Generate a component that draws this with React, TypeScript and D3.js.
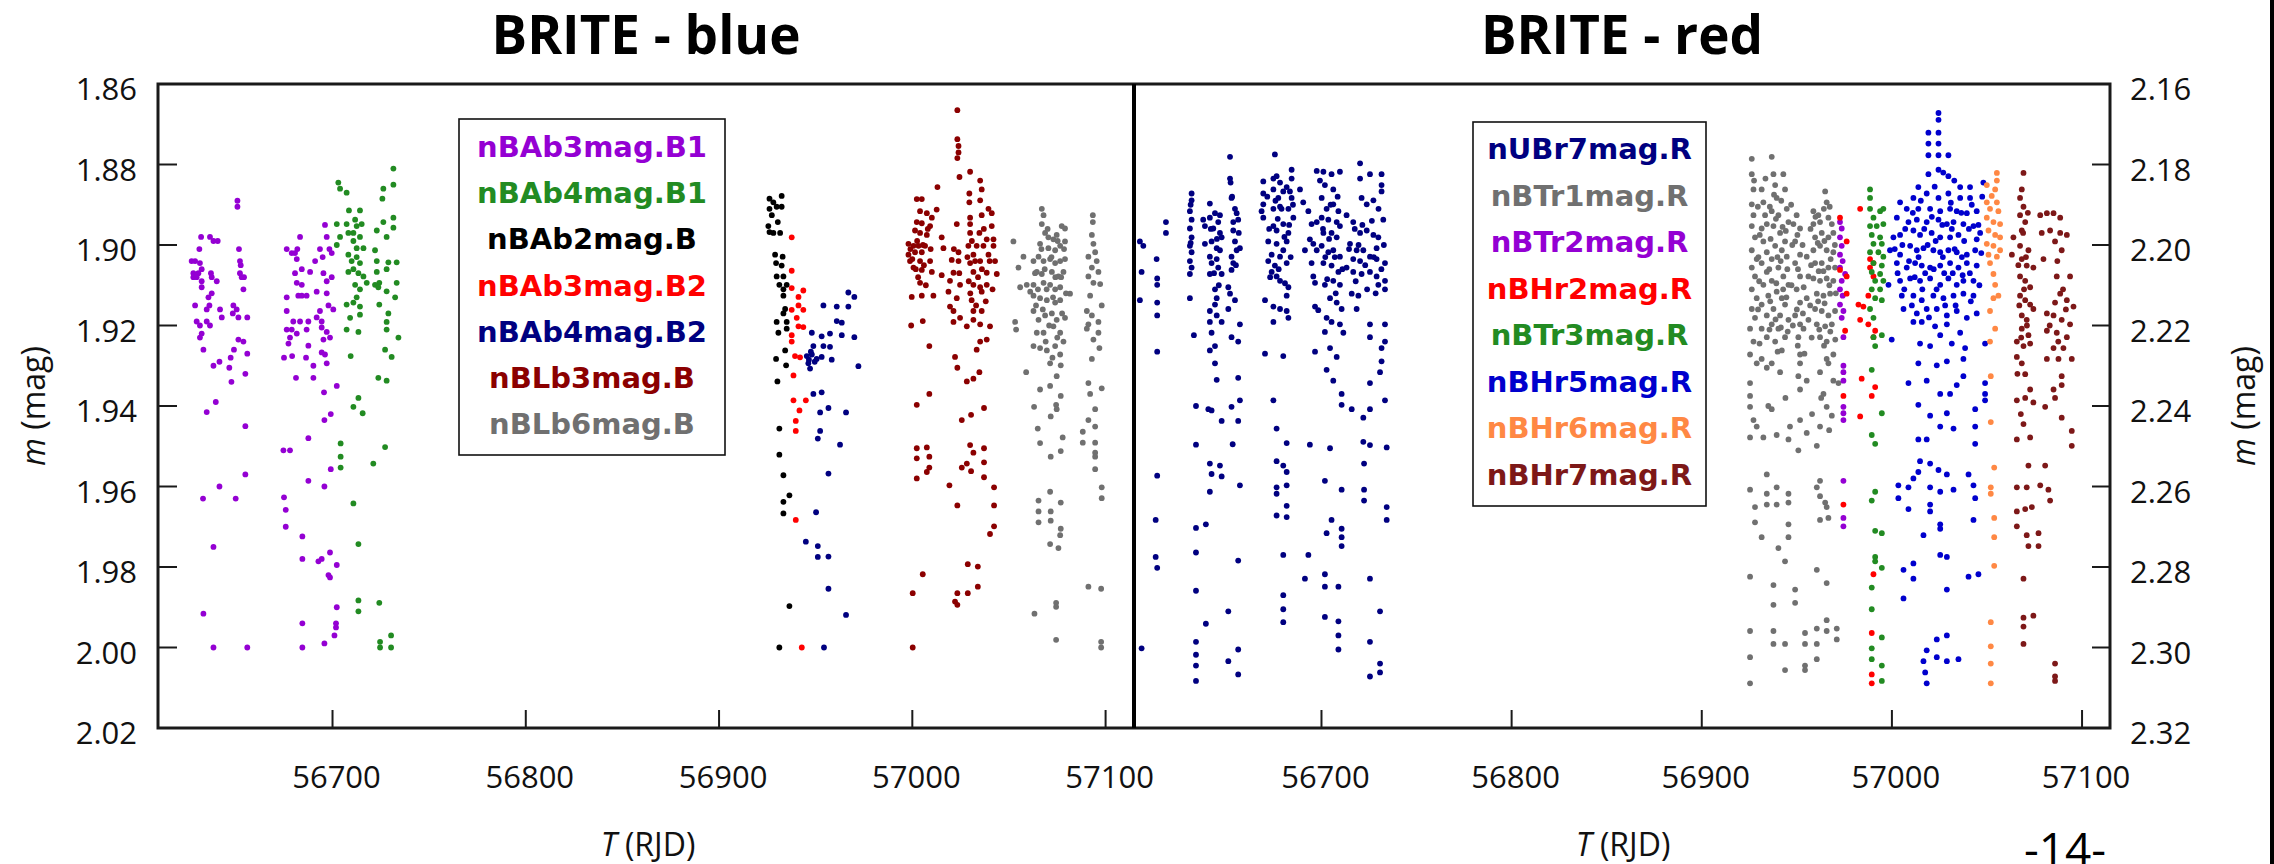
import React from 'react';
import * as d3 from 'd3';

type P = [number, number];

// ---------- axis ticks ----------
const leftYTicks = [1.86, 1.88, 1.9, 1.92, 1.94, 1.96, 1.98, 2.0, 2.02];
const rightYTicks = [2.16, 2.18, 2.2, 2.22, 2.24, 2.26, 2.28, 2.3, 2.32];
const xTicks = [56700, 56800, 56900, 57000, 57100];

// ---------- BRITE - blue ----------
const nBAb3magB1: P[] = [
[56632.0,1.898],[56636.6,1.898],[56638.4,1.899],[56640.6,1.899],[56631.1,1.901],[56627.1,1.904],[56628.9,1.904],[56631.4,1.9045],[56628,1.907],[56630.6,1.907],[56632.3,1.906],[56637.1,1.907],[56628,1.908],[56629.7,1.908],[56632.3,1.909],[56637.5,1.908],[56640.1,1.909],[56632.3,1.9105],[56635.8,1.913],[56637.5,1.912],[56628.9,1.915],[56636.3,1.915],[56634.9,1.916],[56641.8,1.916],[56642.7,1.918],[56629.7,1.919],[56631.4,1.92],[56634.9,1.919],[56636.6,1.92],[56632.3,1.922],[56631.4,1.923],[56633.2,1.926],[56638.4,1.93],[56641.5,1.929],[56634.9,1.9415],[56639.6,1.939],[56633,1.963],[56641.5,1.96],[56638.4,1.975],[56633.2,1.9916],[56638.4,2.0],
[56650.8,1.889],[56650.8,1.8905],[56651.6,1.901],[56652.1,1.904],[56652.5,1.905],[56652.1,1.907],[56653,1.908],[56654.2,1.908],[56653.9,1.911],[56648.7,1.915],[56650.4,1.916],[56648.4,1.917],[56651.3,1.918],[56655.9,1.918],[56649,1.926],[56647.3,1.928],[56646.6,1.9305],[56651.3,1.9235],[56653.9,1.924],[56655.9,1.927],[56654.9,1.932],[56647.7,1.934],[56654.9,1.945],[56654.9,1.957],[56649.9,1.963],[56655.9,2.0],
[56676.3,1.901],[56678.9,1.902],[56680.6,1.902],[56681.8,1.901],[56683.2,1.898],[56681.5,1.9035],[56680.6,1.907],[56684.1,1.906],[56688.4,1.9067],[56691,1.904],[56693.5,1.901],[56694.9,1.903],[56696.1,1.895],[56697,1.898],[56698.4,1.901],[56699.6,1.902],[56681.5,1.9094],[56684.1,1.9099],[56695.3,1.907],[56697,1.909],[56699.6,1.908],[56676.3,1.913],[56682.3,1.9126],[56684.1,1.9126],[56686.6,1.9126],[56691.8,1.9116],[56697,1.912],[56697.9,1.915],[56700.4,1.916],[56676.3,1.9164],[56679.7,1.919],[56683.2,1.919],[56687.5,1.919],[56691.8,1.918],[56693.5,1.9164],[56694.4,1.919],[56676.3,1.921],[56678.9,1.921],[56678,1.923],[56677.2,1.9245],[56681.5,1.922],[56686.6,1.921],[56694.4,1.9205],[56697,1.9216],[56698.7,1.923],[56695.3,1.9235],[56687.5,1.925],[56694.4,1.9267],[56696.1,1.9272],[56674.9,1.928],[56679.1,1.9276],[56686.3,1.928],[56690.1,1.93],[56697,1.9294],[56681.1,1.933],[56690.1,1.933],[56702.2,1.935],[56695.6,1.9366],[56699.1,1.942],[56695.8,1.9435],[56687.5,1.948],[56674.6,1.951],[56678,1.951],[56687.5,1.9586],[56695.8,1.96],[56699.1,1.9557],[56674.9,1.9627],[56675.8,1.9658],[56675.8,1.97],[56684.4,1.9724],[56684.4,1.978],[56692.7,1.9786],[56694.4,1.978],[56698.7,1.9764],[56702.2,1.9795],[56697.9,1.982],[56698.7,1.9826],[56702.2,1.99],[56701.8,1.994],[56701.8,1.995],[56701,1.997],[56695.8,1.999],[56684.4,1.994],[56684.4,2.0]
];

const nBAb4magB1: P[] = [
[56703,1.8845],[56703.9,1.886],[56707.3,1.887],[56708.5,1.8914],[56714.2,1.8914],[56726.3,1.886],[56725.8,1.8885],[56731.5,1.881],[56731.5,1.885],[56702.2,1.8948],[56707.3,1.8948],[56711.7,1.8937],[56712.5,1.8953],[56715.1,1.8948],[56722.9,1.8964],[56726.3,1.8943],[56731.5,1.8932],[56731.5,1.8957],[56703.9,1.898],[56708.2,1.897],[56710.8,1.897],[56714.2,1.898],[56702.2,1.9],[56710.8,1.899],[56712.5,1.9008],[56716,1.9008],[56722,1.9013],[56728,1.898],[56708.2,1.9024],[56709.9,1.904],[56712.5,1.903],[56714.2,1.9045],[56722.9,1.904],[56728.9,1.9043],[56733.2,1.9043],[56708.2,1.9067],[56710.8,1.906],[56713.4,1.907],[56716,1.9078],[56722.9,1.9067],[56724.2,1.9094],[56728,1.906],[56717.7,1.9094],[56711.7,1.9099],[56714.2,1.911],[56712.5,1.913],[56722,1.9099],[56723.7,1.9105],[56733.2,1.9094],[56728,1.9115],[56732.4,1.913],[56707.3,1.9148],[56710.8,1.9143],[56714.2,1.9153],[56724.2,1.9148],[56728.9,1.917],[56709.1,1.9181],[56714.2,1.9173],[56728,1.9191],[56707.3,1.921],[56713.4,1.9216],[56728,1.921],[56734.1,1.923],[56709.4,1.9276],[56727.2,1.926],[56730.6,1.9278],[56723.7,1.933],[56728,1.9337],[56713.4,1.938],[56710.8,1.9402],[56715.6,1.9418],[56704.2,1.9493],[56704.2,1.9526],[56704.2,1.9553],[56721.1,1.9543],[56727.2,1.9502],[56710.8,1.9642],[56713.4,1.9743],[56713.4,1.9883],[56713.4,1.991],[56724.2,1.9889],[56724.6,1.9986],[56724.6,2.0],[56730.3,1.997],[56730.3,2.0]
];

const nBAb2magB: P[] = [
[56926.1,1.8885],[56928.1,1.8894],[56932.4,1.8878],[56926.1,1.891],[56929.8,1.8905],[56932.4,1.8905],[56927.3,1.8926],[56930.4,1.8943],[56925.5,1.8953],[56928.1,1.897],[56931.6,1.897],[56926.1,1.8968],[56929,1.9024],[56932.9,1.9029],[56929.5,1.9045],[56932.4,1.9051],[56929.8,1.9078],[56933.3,1.9078],[56931.2,1.9099],[56933.3,1.911],[56935,1.9099],[56933.3,1.9126],[56934.2,1.9159],[56933.3,1.917],[56929.8,1.9191],[56935,1.9191],[56930.7,1.9218],[56935,1.9208],[56929.5,1.9283],[56934.2,1.9262],[56934.7,1.9299],[56930.2,1.9339],[56931.2,1.9456],[56931.2,1.9521],[56933.3,1.9572],[56933.3,1.9638],[56936.4,1.9622],[56933.3,1.9667],[56936.4,1.9897],[56931.2,2.0]
];

const nBAb3magB2: P[] = [
[56937.6,1.8981],[56937.6,1.9064],[56937.6,1.9107],[56941.1,1.9129],[56943.6,1.9113],[56937.6,1.9161],[56941.1,1.915],[56943.6,1.9161],[56940.2,1.9181],[56941.1,1.9202],[56943.6,1.9204],[56937.6,1.9224],[56937.6,1.924],[56939.3,1.9276],[56941.9,1.9279],[56938.5,1.9324],[56938.5,1.9386],[56941.6,1.9411],[56944.9,1.9386],[56939.7,1.9437],[56939.7,1.9462],[56939.7,1.9683],[56942.8,2.0]
];

const nBAb4magB2: P[] = [
[56966.9,1.9118],[56970,1.9129],[56954,1.915],[56960.9,1.9153],[56966.9,1.9153],[56960.9,1.9189],[56963.5,1.9193],[56948,1.9218],[56953.1,1.9227],[56957.4,1.922],[56963.5,1.9224],[56970,1.9229],[56948.8,1.9251],[56954,1.9251],[56957.4,1.9253],[56945.4,1.9276],[56948,1.9272],[56950.5,1.9283],[56953.1,1.9278],[56958.3,1.9285],[56946.2,1.9294],[56947.1,1.9307],[56972.1,1.9301],[56946.5,1.9285],[56949.5,1.929],[56947.5,1.9265],[56948.8,1.937],[56953.1,1.9366],[56952.3,1.9416],[56956.6,1.9405],[56965.7,1.9416],[56952.3,1.9462],[56951.1,1.9481],[56962.6,1.9496],[56956.6,1.9568],[56950.2,1.9664],[56944.9,1.9737],[56951.1,1.9748],[56951.1,1.9775],[56956.6,1.9774],[56956.6,1.9854],[56965.7,1.9919],[56954.3,2.0]
];

const nBLb3magB: P[] = [
[57023.3,1.8665],[57023.3,1.8737],[57023.9,1.8754],[57023.9,1.877],[57023.3,1.8784],[57024.4,1.8831],[57029.9,1.8818],[57035.1,1.884],[57035.9,1.8862],[57013,1.8856],[57002.3,1.8886],[57004.9,1.8886],[57012.6,1.8912],[57029.5,1.8872],[57029.5,1.8894],[57035.1,1.8889],[57039.4,1.891],[57041.1,1.8921],[57004,1.8916],[57007.5,1.8921],[57010.1,1.8932],[57029.9,1.8932],[57035.9,1.8926],[57023,1.8948],[57002.3,1.8943],[57004.9,1.8946],[57009.2,1.8953],[57029.9,1.8948],[57041.1,1.8953],[57001.4,1.8964],[57004,1.897],[57007.5,1.8975],[57015.2,1.8981],[57029.9,1.897],[57034.7,1.897],[57038.5,1.8986],[57042,1.8986],[56998,1.8997],[57000.6,1.9002],[57003.2,1.9002],[57006.6,1.9002],[57016.1,1.9008],[57029,1.9002],[57033.3,1.9002],[57036.8,1.9002],[57042,1.9002],[56998,1.9024],[57001.4,1.9018],[57004.9,1.9018],[57023.9,1.9018],[57031.6,1.9024],[57039.4,1.9024],[56998.8,1.904],[57004,1.904],[57009.2,1.904],[57020.4,1.9037],[57023.9,1.904],[57029.9,1.9045],[57035.1,1.904],[57042.8,1.904],[57000.6,1.9056],[57004.9,1.9062],[57010.1,1.9067],[57015.2,1.9075],[57021.3,1.9069],[57031.6,1.9067],[57038.5,1.9069],[57043.7,1.9072],[57004,1.9094],[57019.5,1.9089],[57024.7,1.9099],[57031.6,1.9099],[57035.1,1.9105],[57038.5,1.9099],[57004.9,1.9126],[57010.9,1.9126],[56999.7,1.9129],[57018.7,1.9116],[57023,1.9132],[57030.7,1.9137],[57035.9,1.9116],[57019.5,1.9153],[57021.3,1.9164],[57024.7,1.9181],[57031.6,1.9164],[57035.9,1.9164],[56999.4,1.92],[57005.4,1.9189],[57021.3,1.9191],[57028.2,1.9202],[57031.6,1.9186],[57035.1,1.9197],[57040.2,1.9202],[57008.8,1.9251],[57035.1,1.924],[57038.5,1.9235],[57033.3,1.926],[57022.1,1.9278],[57023.3,1.9305],[57028.2,1.9339],[57031.6,1.9332],[57034.7,1.9316],[57002.3,1.9397],[57008.8,1.937],[57025.6,1.9435],[57030.4,1.9422],[57037.1,1.9405],[57002.3,1.9505],[57007.5,1.9503],[57002.3,1.953],[57008.8,1.9526],[57002.3,1.958],[57007.5,1.9564],[57008.8,1.9553],[57029.9,1.9497],[57031.6,1.9516],[57037.1,1.9505],[57028.2,1.9543],[57025.6,1.9553],[57037.1,1.954],[57030.4,1.9562],[57037.1,1.9577],[57019.2,1.9597],[57042.3,1.9602],[57023.3,1.9647],[57042.3,1.9647],[57042.3,1.9699],[57040.2,1.9718],[57005.4,1.9818],[57028.7,1.9793],[57033.9,1.9799],[57000.2,1.9865],[57023.3,1.9865],[57028.7,1.9865],[57033.9,1.9849],[57022.1,1.9886],[57023.3,1.9894],[57000.2,2.0],
[56999.0,1.901],[57000.0,1.9035],[57001.8,1.906],[57002.5,1.899],[57003.0,1.908],[57005.5,1.9],[57006.0,1.905],[57007.0,1.91],[57008.0,1.896],[57009.5,1.901],[57028.5,1.903],[57029.2,1.909],[57030.0,1.912],[57030.8,1.899],[57032.5,1.904],[57033.0,1.915],[57034.0,1.908],[57036.0,1.906],[57037.0,1.896],[57038.0,1.914],[57040.0,1.904],[57041.5,1.911],[57024.3,1.907],[57021.5,1.901]
];

const nBLb6magB: P[] = [
[57052.3,1.8991],[57054.9,1.9056],[57057.5,1.9029],[57059.2,1.9099],[57061,1.9116],[57055.8,1.9105],[57062.7,1.9126],[57067,1.891],[57067.9,1.8926],[57067,1.8948],[57068.7,1.897],[57070.4,1.8981],[57073,1.8986],[57074.7,1.8975],[57077.3,1.8953],[57079,1.8959],[57066.1,1.8997],[57070.4,1.9008],[57073.9,1.9013],[57076.5,1.9002],[57079,1.8991],[57062.7,1.904],[57065.3,1.9029],[57067.9,1.904],[57071.3,1.9035],[57073.9,1.9045],[57076.5,1.904],[57079,1.9035],[57064.4,1.9067],[57067,1.9072],[57072.2,1.9067],[57075.6,1.9078],[57078.2,1.9067],[57062.7,1.9099],[57067.9,1.9094],[57071.3,1.9099],[57073.9,1.911],[57076.5,1.9105],[57081.6,1.9121],[57066.1,1.9132],[57069.6,1.9137],[57073.9,1.9143],[57076.5,1.9137],[57062.7,1.9164],[57065.3,1.9186],[57068.7,1.9175],[57072.2,1.917],[57074.7,1.9186],[57079,1.9181],[57053.2,1.9191],[57053.7,1.921],[57064.4,1.9218],[57067.9,1.9218],[57073,1.9202],[57076.5,1.9218],[57078.2,1.924],[57062.7,1.9251],[57066.1,1.9256],[57069.6,1.9262],[57073.9,1.9251],[57076.5,1.9272],[57071.3,1.9294],[57076.8,1.9299],[57058.9,1.9316],[57066.1,1.9359],[57071.3,1.935],[57074.7,1.9326],[57076.8,1.9375],[57063,1.9402],[57074.4,1.9397],[57074.7,1.9408],[57071.6,1.9426],[57064.9,1.9456],[57077.8,1.9478],[57066.1,1.9492],[57071.6,1.9526],[57076.8,1.9512],[57065.3,1.9635],[57071.3,1.9613],[57076.8,1.964],[57065.3,1.9662],[57071.6,1.9662],[57065.3,1.9689],[57071.6,1.9685],[57076.8,1.9705],[57076.5,1.9721],[57071.3,1.9743],[57075.6,1.9753],[57063.2,1.9916],[57074.4,1.9889],[57074.4,1.9899],[57074.4,1.9981],
[57093.4,1.8926],[57093.4,1.8943],[57092.9,1.8975],[57093.7,1.8997],[57094.6,1.9018],[57091.1,1.9029],[57095.4,1.904],[57092.9,1.9056],[57096.3,1.9067],[57091.1,1.9078],[57093.7,1.9094],[57097.2,1.9097],[57092,1.9126],[57098,1.915],[57090.3,1.9164],[57092.9,1.9175],[57096.3,1.9191],[57091.1,1.9197],[57090.3,1.9208],[57096.3,1.9218],[57093.7,1.9235],[57096.8,1.9256],[57092.9,1.9283],[57091.1,1.9343],[57098,1.9356],[57092,1.937],[57094.6,1.9408],[57091.1,1.9435],[57094.6,1.9451],[57088.2,1.9464],[57088.2,1.9491],[57094.6,1.9491],[57094.6,1.9516],[57094.6,1.9526],[57094.6,1.9557],[57098,1.9602],[57098,1.9629],[57091.1,1.9849],[57097.7,1.9854],[57097.7,1.9986],[57097.7,2.0],
[57063.5,1.907],[57064.0,1.915],[57065.0,1.911],[57066.8,1.901],[57067.5,1.916],[57068.5,1.906],[57069.5,1.911],[57070.0,1.896],[57070.8,1.92],[57072.0,1.903],[57072.8,1.913],[57074.0,1.908],[57075.0,1.923],[57075.2,1.899],[57077.0,1.908],[57077.5,1.917],[57078.5,1.901],[57079.5,1.912],[57069.0,1.924],[57072.5,1.928]
];

// ---------- BRITE - red ----------
const nUBr7magR: P[] = [
[56604.5,2.1991],[56606.3,2.2002],[56605.4,2.2067],[56604.5,2.2137],[56605.4,2.3002],[56613.3,2.2035],[56613.6,2.2083],[56613.6,2.2099],[56613.6,2.2143],[56613.6,2.2175],[56613.6,2.2265],[56613.6,2.2573],[56612.8,2.2683],[56612.8,2.2775],[56613.6,2.2802],[56618.2,2.1943],[56618.2,2.197],
[56631.7,2.1872],[56631.7,2.1889],[56630.8,2.1916],[56631.7,2.1937],[56630.8,2.1959],[56631.7,2.1981],[56630.8,2.2002],[56631.7,2.2018],[56630.8,2.204],[56631.7,2.2056],[56630.8,2.2072],[56630.8,2.2132],[56632.9,2.2224],[56634,2.24],[56634,2.2496],[56634,2.2703],[56634,2.2764],[56634,2.2859],[56634,2.2986],[56634,2.3018],[56634,2.3045],[56634,2.3083],[56639.2,2.2941],[56639.2,2.2694],
[56641.3,2.1897],[56637.8,2.1937],[56638.7,2.1953],[56641.3,2.1932],[56644,2.1921],[56646.6,2.1926],[56645.7,2.1943],[56643.1,2.1959],[56646.6,2.197],[56647.5,2.1981],[56638.7,2.1997],[56642.2,2.1991],[56644.9,2.2008],[56646.6,2.2013],[56641.3,2.2029],[56644.9,2.2035],[56642.2,2.2045],[56645.7,2.2056],[56641.3,2.2072],[56647.5,2.2072],[56644,2.211],[56644.9,2.2132],[56644,2.2148],[56641.3,2.2164],[56644.9,2.2175],[56647.5,2.2191],[56641.3,2.2191],[56642.2,2.2218],[56644,2.2251],[56641.3,2.2262],[56644,2.2294],[56644.9,2.2335],[56640.5,2.2408],[56642.2,2.2411],[56647.5,2.2437],[56641.3,2.2543],[56642.2,2.2569],[56646.6,2.2548],[56647.5,2.2575],[56641.3,2.2613],
[56651.9,2.1781],[56651.9,2.1835],[56652.2,2.1845],[56652.7,2.1883],[56654.5,2.191],[56655.4,2.1921],[56653.6,2.1943],[56656.2,2.1937],[56653.6,2.1964],[56654.5,2.1991],[56657.1,2.2008],[56655.4,2.2013],[56652.7,2.2029],[56653.6,2.2045],[56652.7,2.2062],[56651,2.2105],[56651.9,2.2121],[56654.5,2.2137],[56651,2.2159],[56657.1,2.2197],[56652.7,2.2229],[56656.2,2.224],[56656.2,2.233],[56657.1,2.2386],[56652.7,2.2402],[56656.2,2.2437],[56653.3,2.2495],[56657.1,2.2597],[56656.2,2.2784],[56651,2.291],[56651,2.3034],[56656.2,2.3005],[56656.2,2.3067],
[56669.4,2.1842],[56669.4,2.1872],[56669.4,2.1899],[56669.4,2.1932],[56668.5,2.1916],[56675.5,2.1775],[56674.7,2.1835],[56676.4,2.1829],[56678.2,2.1845],[56674.7,2.1862],[56677.3,2.1883],[56679.9,2.1867],[56681.7,2.1856],[56684.3,2.1813],[56684.3,2.1835],[56683.4,2.1867],[56684.3,2.1883],[56674.7,2.191],[56678.2,2.1905],[56682.6,2.191],[56685.2,2.1932],[56674.7,2.1953],[56679.9,2.1948],[56676.4,2.1964],[56682.6,2.197],[56672,2.1991],[56676.4,2.1997],[56681.7,2.1991],[56679.9,2.2013],[56673.8,2.2024],[56678.2,2.2029],[56672,2.204],[56675.5,2.2051],[56681.7,2.2045],[56673.8,2.2067],[56676.4,2.2078],[56678.2,2.2089],[56682.6,2.2105],[56681.7,2.2126],[56670.3,2.2137],[56674.7,2.2153],[56678.2,2.2159],[56681.7,2.2164],[56674.7,2.2191],[56682.6,2.2181],[56670.3,2.227],[56679.9,2.2276],[56674.7,2.2386],[56676.4,2.2456],[56681.7,2.2492],[56676.4,2.2537],[56679.9,2.2548],[56681.7,2.2564],[56676.4,2.2602],[56676.4,2.2618],[56681.7,2.2597],[56681.7,2.2648],[56676.4,2.2672],[56681.7,2.2676],[56679.9,2.277],[56679.9,2.287],[56679.9,2.2905],[56679.9,2.2937],
[56688.7,2.1862],[56690.4,2.1894],[56693.1,2.1916],[56694.8,2.1948],[56697.5,2.1943],[56693.9,2.1986],[56695.7,2.1997],[56691.3,2.2013],[56697.5,2.2013],[56694.8,2.2045],[56695.7,2.2078],[56696.6,2.2094],[56693.1,2.277],[56691.3,2.2829],[56696.6,2.2153],[56698.3,2.2162],[56696.6,2.2265],[56693.9,2.2496],
[56697.5,2.1816],[56701,2.1818],[56699.2,2.184],[56705.3,2.1824],[56709.7,2.1818],[56701.8,2.1851],[56706.2,2.1862],[56700.1,2.1883],[56702.7,2.191],[56706.2,2.1899],[56708.9,2.1916],[56700.1,2.1932],[56703.6,2.1937],[56708,2.1943],[56709.7,2.1953],[56701,2.197],[56705.3,2.197],[56708,2.1981],[56700.1,2.2002],[56703.6,2.2018],[56706.2,2.2013],[56709.7,2.2029],[56701,2.2045],[56705.3,2.2051],[56708.9,2.2067],[56701.8,2.2099],[56706.2,2.2089],[56709.7,2.2099],[56704.5,2.2132],[56708,2.2143],[56710.6,2.2159],[56702.7,2.2181],[56705.3,2.2191],[56709.7,2.2197],[56701.8,2.2216],[56711.5,2.2218],[56704.5,2.2256],[56708,2.2278],[56702.7,2.231],[56706.2,2.2337],[56710.6,2.237],[56710.6,2.2397],[56704.5,2.2505],[56701.8,2.2586],[56710.6,2.2608],[56705.3,2.2683],[56702.7,2.2716],[56710.6,2.2705],[56710.6,2.2726],[56710.6,2.2748],[56701.8,2.2818],[56701.8,2.2849],[56708.9,2.2849],[56701.8,2.2924],[56708.9,2.2935],[56708.9,2.297],[56708.9,2.3005],
[56720.3,2.1797],[56720.3,2.1835],[56725.5,2.1824],[56731.6,2.1824],[56731.6,2.1851],[56721.1,2.1883],[56723.8,2.1899],[56727.3,2.1889],[56731.6,2.1867],[56732.5,2.1937],[56713.2,2.1926],[56716.7,2.1943],[56720.3,2.197],[56723.8,2.1964],[56727.3,2.1975],[56729.9,2.1981],[56715,2.1997],[56718.5,2.2013],[56722,2.2013],[56729,2.2008],[56716.7,2.2035],[56720.3,2.204],[56725.5,2.2029],[56729,2.2035],[56733.4,2.2045],[56713.2,2.2056],[56716.7,2.2067],[56721.1,2.2072],[56725.5,2.2067],[56729,2.2078],[56733.4,2.2089],[56715.9,2.2121],[56719.4,2.2126],[56729.9,2.2099],[56733.4,2.211],[56718.5,2.2159],[56725.5,2.2197],[56733.4,2.2197],[56725.5,2.2229],[56733.4,2.224],[56731.6,2.2256],[56731.6,2.2289],[56730.8,2.2316],[56725.5,2.2343],[56715.9,2.2408],[56722,2.2429],[56725.5,2.2408],[56733.4,2.2386],[56722,2.2489],[56725.5,2.2497],[56734.3,2.2503],[56722.4,2.2543],[56722.4,2.2608],[56722.4,2.2635],[56734.3,2.2651],[56734.3,2.2683],[56725.5,2.2829],[56730.8,2.291],[56725.5,2.2986],[56730.8,2.304],[56730.8,2.3062],[56725.5,2.3072],
[56671.5,2.188],[56672.5,2.196],[56673.0,2.208],[56675.8,2.189],[56677.0,2.1935],[56677.5,2.206],[56679.0,2.191],[56680.5,2.198],[56680.8,2.2095],[56683.0,2.195],[56683.8,2.203],[56685.0,2.19],[56700.8,2.196],[56702.0,2.203],[56703.0,2.2085],[56704.0,2.1985],[56704.8,2.19],[56707.0,2.203],[56707.5,2.212],[56708.5,2.188],[56711.0,2.206],[56714.5,2.201],[56717.5,2.196],[56718.0,2.209],[56719.5,2.2],[56721.5,2.195],[56723.0,2.205],[56724.0,2.211],[56726.5,2.194],[56727.5,2.203],[56728.5,2.212],[56730.0,2.191],[56731.5,2.206],[56732.8,2.2],[56641.8,2.196],[56643.5,2.207],[56645.0,2.1985],[56646.0,2.21],[56653.0,2.188],[56655.0,2.205],[56656.5,2.197],[56631.2,2.19],[56631.2,2.1995]
];

const nBTr1magR: P[] = [
[56926.3,2.1786],[56926.3,2.1824],[56927.2,2.1862],[56926.3,2.1899],[56927.2,2.1926],[56926.3,2.1953],[56928,2.1981],[56926.3,2.2013],[56928.9,2.2035],[56926.3,2.2056],[56928,2.2078],[56926.3,2.211],[56928.9,2.2132],[56926.3,2.2159],[56928,2.2181],[56925.4,2.2208],[56927.2,2.224],[56925.4,2.2272],[56928.9,2.2294],[56925.4,2.2343],[56925.4,2.2375],[56925.4,2.2402],[56927.2,2.2435],[56925.4,2.2478],[56928.9,2.2451],[56925.4,2.2608],[56928,2.2651],[56928,2.2689],[56925.4,2.2824],[56925.4,2.2959],[56925.4,2.3024],[56925.4,2.3089],
[56931.5,2.1862],[56932.4,2.1894],[56933.3,2.1926],[56931.5,2.1959],[56934.2,2.1948],[56932.4,2.1991],[56934.2,2.2018],[56931.5,2.2045],[56934.2,2.2067],[56932.4,2.2099],[56935,2.2126],[56931.5,2.2148],[56934.2,2.2175],[56931.5,2.2208],[56934.2,2.2229],[56931.5,2.2283],[56934.2,2.2305],[56932.4,2.2478],[56934.2,2.257],[56934.2,2.2618],[56934.2,2.2645],[56931.5,2.2726],
[56936.8,2.1781],[56937.7,2.1824],[56938.6,2.1851],[56939.4,2.1883],[56936.8,2.1916],[56940.3,2.1926],[56937.7,2.1953],[56941.2,2.197],[56938.6,2.2002],[56942.1,2.2013],[56936.8,2.2035],[56940.3,2.2056],[56942.9,2.2078],[56936.8,2.2089],[56939.4,2.2116],[56942.1,2.2132],[56937.7,2.2159],[56941.2,2.2175],[56936.8,2.2197],[56940.3,2.2208],[56938.6,2.224],[56942.1,2.2262],[56936.8,2.2294],[56941.2,2.2316],[56936.8,2.2408],[56939.4,2.2472],[56939.4,2.2602],[56939.4,2.2645],[56940.3,2.2753],[56943.8,2.2786],[56937.7,2.2845],[56937.7,2.2894],[56937.7,2.2959],[56937.7,2.2991],[56943.8,2.2991],[56943.8,2.3056],
[56942.9,2.1824],[56943.8,2.1862],[56944.7,2.191],[56945.6,2.1943],[56943.8,2.1991],[56944.7,2.2029],[56945.6,2.2099],[56943.8,2.2148],[56945.6,2.2186],[56943.8,2.2229],[56945.6,2.2618],[56945.6,2.264],[56945.6,2.2694],[56945.6,2.2726],[56945.6,2.2483],[56946.4,2.2451],
[56948.2,2.1948],[56949.9,2.1926],[56951.7,2.1959],[56949.1,2.1991],[56951.7,2.2024],[56949.1,2.2045],[56951.7,2.2078],[56949.9,2.211],[56951.7,2.2143],[56949.1,2.2175],[56951.7,2.2197],[56950.8,2.2229],[56951.7,2.2272],[56951.7,2.2294],[56950.8,2.2326],[56951.7,2.2359],[56955.2,2.2337],[56955.2,2.2029],[56956.1,2.2078],[56955.2,2.2132],[56956.1,2.2186],[56953.5,2.2208],[56951.7,2.2435],[56955.2,2.2467],[56950.8,2.251],[56949.1,2.2856],[56949.1,2.2889],[56954.3,2.2964],[56954.3,2.2991],[56954.3,2.3045],[56954.3,2.3056],[56960.5,2.2953],[56960.5,2.2991],[56960.5,2.3029],
[56958.7,2.1916],[56961.3,2.1926],[56964.9,2.1867],[56965.7,2.1894],[56958.7,2.1948],[56962.2,2.1943],[56966.6,2.1932],[56968.4,2.1948],[56959.6,2.1981],[56963.1,2.197],[56966.6,2.1981],[56969.2,2.197],[56958.7,2.2013],[56962.2,2.2002],[56965.7,2.2013],[56969.2,2.2018],[56959.6,2.2045],[56963.1,2.2045],[56966.6,2.2056],[56970.1,2.2056],[56958.7,2.2083],[56962.2,2.2089],[56965.7,2.2083],[56969.2,2.2089],[56960.5,2.2121],[56964,2.2126],[56967.5,2.2121],[56959.6,2.2159],[56963.1,2.2164],[56966.6,2.2175],[56970.1,2.2164],[56960.5,2.2197],[56964.9,2.2202],[56968.4,2.2197],[56962.2,2.2229],[56965.7,2.224],[56969.2,2.2272],[56965.7,2.2283],[56962.2,2.2316],[56966.6,2.2294],[56969.2,2.2337],[56971.9,2.2343],[56964,2.237],[56965.7,2.2402],[56968.4,2.2424],[56962.2,2.2451],[56960.5,2.2499],[56962.2,2.2586],[56960.5,2.2602],[56964.9,2.264],[56965.7,2.2651],[56962.2,2.2683],[56966.6,2.2678],[56960.5,2.2807],[56965.7,2.284],[56965.7,2.2932],[56965.7,2.2959],[56971,2.2953],[56971,2.298],[56962.2,2.2624],
[56927.5,2.184],[56929.5,2.1905],[56930.5,2.1975],[56929.8,2.203],[56930.2,2.209],[56929.6,2.216],[56930.4,2.2245],[56933.5,2.1835],[56935.8,2.1905],[56936.2,2.1985],[56935.5,2.206],[56936.0,2.214],[56935.6,2.221],[56938.0,2.1875],[56939.0,2.1935],[56939.8,2.203],[56939.2,2.2095],[56938.8,2.2185],[56939.9,2.2265],[56941.8,2.189],[56942.5,2.1955],[56941.5,2.204],[56942.8,2.211],[56941.6,2.2205],[56944.2,2.1965],[56945.0,2.206],[56944.5,2.213],[56945.2,2.2215],[56947.0,2.19],[56947.6,2.2],[56947.2,2.21],[56947.9,2.22],[56950.3,2.1975],[56950.6,2.206],[56950.0,2.216],[56950.5,2.225],[56953.0,2.2],[56953.6,2.2105],[56953.2,2.217],[56954.0,2.227],[56957.2,2.196],[56957.5,2.205],[56957.0,2.215],[56957.8,2.223],[56959.8,2.193],[56961.0,2.1995],[56961.5,2.2065],[56961.2,2.214],[56961.8,2.221],[56964.2,2.191],[56964.5,2.199],[56964.0,2.2065],[56964.6,2.2145],[56964.3,2.225],[56967.3,2.1905],[56967.8,2.2035],[56967.1,2.21],[56967.6,2.2215],[56970.0,2.2],[56970.5,2.212],[56970.2,2.2235],[56962.8,2.238],[56967.0,2.246],[56958.0,2.242],[56944.0,2.238],[56935.0,2.24]
];

const nBTr2magR: P[] = [
[56972.7,2.1943],[56973.6,2.1959],[56972.7,2.1981],[56973.6,2.2002],[56972.7,2.2024],[56974.1,2.204],[56972.7,2.2056],[56975.4,2.2072],[56973.6,2.2089],[56972.7,2.211],[56974.1,2.2126],[56972.7,2.2148],[56974.5,2.2164],[56973.6,2.2181],[56974.5,2.2229],[56974.5,2.23],[56974.5,2.2316],[56974.5,2.2337],[56974.5,2.2402],[56974.5,2.2418],[56974.5,2.2435],[56974.5,2.2586],[56974.5,2.2678],[56974.5,2.2699]
];

const nBHr2magR: P[] = [
[56972.7,2.1932],[56976.2,2.1991],[56972.7,2.2062],[56976.2,2.2078],[56976.2,2.2121],[56975.4,2.2213],[56974.5,2.2375],[56983.3,2.191],[56982.4,2.2148],[56985,2.2153],[56983.3,2.2186],[56987.6,2.2126],[56988.5,2.2035],[56990.3,2.2045],[56988.5,2.2056],[56990.3,2.2078],[56987.6,2.2197],[56991.2,2.2213],[56990.3,2.2229],[56984.1,2.2332],[56991.2,2.2353],[56989.4,2.2375],[56983.3,2.2426],[56974.5,2.2645],[56990.3,2.2818],[56989.4,2.2964],[56989.4,2.3067],[56989.4,2.3089]
];

const nBTr3magR: P[] = [
[56988.5,2.1862],[56988.5,2.1883],[56988.5,2.191],[56990.3,2.1932],[56993.8,2.1916],[56995.5,2.191],[56988.5,2.1953],[56992,2.1953],[56995.5,2.1948],[56989.4,2.1975],[56993.8,2.1981],[56990.3,2.1997],[56994.7,2.1997],[56988.5,2.2018],[56992.9,2.2018],[56995.5,2.2029],[56990.3,2.2045],[56994.7,2.2051],[56989.4,2.2067],[56993.8,2.2072],[56991.2,2.2089],[56995.5,2.2089],[56989.4,2.211],[56993.8,2.211],[56991.2,2.2132],[56994.7,2.2137],[56988.5,2.2159],[56990.3,2.2181],[56990.3,2.2229],[56991.2,2.2251],[56994.7,2.2224],[56989.4,2.231],[56994.7,2.2418],[56989.4,2.2472],[56991.2,2.2494],[56991.2,2.2613],[56989.4,2.2635],[56991.2,2.271],[56994.7,2.2716],[56991.2,2.2775],[56991.2,2.2786],[56994.7,2.2802],[56989.4,2.2851],[56989.4,2.2905],[56994.7,2.2975],[56989.4,2.3002],[56989.4,2.3029],[56994.7,2.3045],[56994.7,2.3083]
];

const nBHr5magR: P[] = [
[57024.5,2.1672],[57024.5,2.1689],[57019.2,2.1721],[57024.5,2.1721],[57019.2,2.1748],[57024.5,2.1748],[57019.2,2.1777],[57024.5,2.1777],[57029.7,2.1777],[57019.2,2.1824],[57024.5,2.1813],[57029.7,2.1829],[57013.9,2.1856],[57018.3,2.1872],[57024.5,2.1883],[57029.7,2.1872],[57035.9,2.1856],[57041.1,2.1856],[57035.9,2.1883],[57041.1,2.1883],[57011.3,2.1883],[57004.3,2.1894],[57007.8,2.191],[57013.9,2.191],[57020.1,2.191],[57025.4,2.1916],[57030.6,2.191],[57034.1,2.1916],[57039.4,2.1921],[57044.6,2.1916],[57048.1,2.1845],[57002.6,2.1932],[57008.7,2.1943],[57013.1,2.1937],[57018.3,2.1943],[57024.5,2.1937],[57028.9,2.1948],[57032.4,2.1943],[57037.6,2.1948],[57042.9,2.1953],[57046.4,2.197],[57000.8,2.1981],[57004.3,2.1975],[57011.3,2.1964],[57014.8,2.1975],[57020.9,2.197],[57025.4,2.1981],[57030.6,2.1981],[57035,2.1975],[57044.6,2.1986],[56999,2.2013],[57004.3,2.2024],[57009.6,2.2002],[57013.1,2.2013],[57016.6,2.2008],[57021.8,2.2013],[57025.4,2.2018],[57029.7,2.2013],[57034.1,2.2018],[57039.4,2.2024],[57043.8,2.2013],[57002.6,2.2045],[57007.8,2.2056],[57012.2,2.2045],[57015.7,2.2051],[57020.1,2.2056],[57025.4,2.2051],[57030.6,2.2045],[57035,2.2056],[57039.4,2.2045],[57044.6,2.2051],[56998.2,2.2099],[57004.3,2.2089],[57009.6,2.2083],[57014.8,2.2089],[57020.1,2.2083],[57025.4,2.2099],[57029.7,2.2083],[57034.1,2.2099],[57037.6,2.2089],[57042.9,2.2089],[57005.2,2.2126],[57011.3,2.2126],[57015.7,2.2137],[57021.8,2.2126],[57027.1,2.2132],[57032.4,2.2126],[57037.6,2.2121],[57042.9,2.2126],[57006.1,2.2159],[57013.1,2.217],[57018.3,2.2159],[57023.6,2.2159],[57028.9,2.2175],[57034.1,2.2164],[57039.4,2.2181],[57044.6,2.217],[57011.3,2.2191],[57015.7,2.2191],[57022.7,2.2202],[57028.9,2.2197],[57035.9,2.2218],[56999.9,2.2235],[57014.8,2.2245],[57020.1,2.2251],[57025.4,2.2224],[57031.5,2.2245],[57038.5,2.2256],[57049,2.2245],[57037.6,2.2283],[57013.9,2.2294],[57023.6,2.2299],[57028.9,2.2289],[57018.3,2.2337],[57008.7,2.2343],[57025.4,2.237],[57030.6,2.237],[57034.1,2.2348],[57037.6,2.2326],[57049,2.2343],[57049,2.237],[57049,2.2386],[57013.9,2.2397],[57020.1,2.2424],[57028.9,2.2418],[57025.4,2.2451],[57032.4,2.2456],[57043.8,2.2408],[57043.8,2.2451],[57043.8,2.2494],[57013.9,2.2483],[57018.3,2.2483],[57014.8,2.2537],[57020.1,2.2543],[57024.5,2.2559],[57028.9,2.257],[57013.9,2.2564],[57011.3,2.258],[57003.4,2.2597],[57008.7,2.2602],[57020.1,2.2602],[57025.4,2.2613],[57032.4,2.2608],[57040.3,2.257],[57042.9,2.2597],[57043.8,2.2629],[57003.4,2.2629],[57008.7,2.2656],[57020.1,2.2645],[57020.1,2.2662],[57025.4,2.2694],[57025.4,2.2705],[57042.9,2.2683],[57016.6,2.2721],[57025.4,2.277],[57028.9,2.2775],[57006.1,2.2807],[57011.3,2.2791],[57011.3,2.2829],[57028.9,2.2856],[57006.1,2.2878],[57040.3,2.2824],[57045.5,2.2818],[57023.6,2.298],[57028.9,2.297],[57018.3,2.3007],[57023.6,2.3024],[57028.9,2.3034],[57035,2.3029],[57016.6,2.3034],[57017.5,2.3062],[57018.3,2.3089],
[57001.5,2.201],[57003.0,2.207],[57005.5,2.2],[57006.5,2.211],[57007.0,2.196],[57009.0,2.204],[57010.5,2.215],[57011.0,2.192],[57012.0,2.208],[57014.0,2.203],[57015.2,2.189],[57016.0,2.211],[57017.0,2.196],[57017.5,2.207],[57018.8,2.2],[57019.5,2.218],[57021.0,2.193],[57022.0,2.206],[57023.0,2.199],[57023.5,2.211],[57026.5,2.195],[57026.8,2.203],[57027.5,2.207],[57028.0,2.215],[57031.0,2.1895],[57031.5,2.196],[57032.0,2.207],[57033.0,2.201],[57033.5,2.215],[57036.5,2.192],[57036.8,2.203],[57037.2,2.2075],[57038.0,2.199],[57040.5,2.196],[57041.0,2.207],[57041.5,2.214],[57042.0,2.19],[57045.5,2.195],[57046.0,2.21],[57047.0,2.202],[57047.5,2.188],[57022.5,2.1855],[57027.0,2.182],[57032.8,2.184]
];

const nBHr6magR: P[] = [
[57055.2,2.1821],[57055.2,2.184],[57049.9,2.1851],[57054.3,2.1862],[57052.5,2.1878],[57049.9,2.1894],[57055.2,2.1894],[57051.6,2.191],[57056,2.1916],[57049.9,2.1932],[57053.4,2.1943],[57056.9,2.1948],[57050.8,2.1964],[57054.3,2.1975],[57056.9,2.1981],[57049.9,2.1997],[57053.4,2.2002],[57056.9,2.2013],[57050.8,2.2024],[57055.2,2.2029],[57051.6,2.2045],[57053.4,2.2072],[57054.3,2.2099],[57056,2.2126],[57053.4,2.2132],[57051.6,2.2164],[57054.3,2.2208],[57051.6,2.224],[57052,2.2326],[57052,2.244],[57053.8,2.2553],[57052,2.2602],[57052,2.2618],[57053.8,2.2678],[57053.8,2.2726],[57053.8,2.2797],[57052,2.2937],[57052,2.2997],[57052,2.304],[57052,2.3089]
];

const nBHr7magR: P[] = [
[57069.2,2.1821],[57068.3,2.1862],[57067.4,2.1883],[57069.2,2.1905],[57067.4,2.1926],[57070.1,2.1943],[57068.3,2.1964],[57063.9,2.1981],[57067.4,2.2002],[57071.8,2.2013],[57063.1,2.2024],[57068.3,2.2035],[57070.9,2.2051],[57074.4,2.2056],[57067.4,2.2078],[57070.1,2.2089],[57072.7,2.2105],[57067.4,2.2126],[57070.1,2.2137],[57072.7,2.2148],[57068.3,2.2175],[57070.9,2.2186],[57074.4,2.2159],[57068.3,2.2208],[57071.8,2.2224],[57065.7,2.224],[57069.2,2.2251],[57072.7,2.2245],[57065.7,2.2278],[57068.3,2.2294],[57070.1,2.2321],[57072.7,2.2359],[57065.7,2.2386],[57070.1,2.238],[57074.4,2.2391],[57069.2,2.2445],[57065.7,2.2483],[57072.7,2.2478],[57071.8,2.2548],[57065.7,2.2602],[57070.9,2.2602],[57078,2.2597],[57082.3,2.2608],[57083.2,2.2635],[57065.7,2.2662],[57070.1,2.2656],[57073.6,2.2651],[57065.7,2.2699],[57070.9,2.2721],[57077.1,2.2716],[57071.8,2.2748],[57077.1,2.2748],[57069.2,2.2829],[57069.2,2.2926],[57074.4,2.2921],[57069.2,2.2948],[57069.2,2.2991],
[57078,2.1926],[57081.5,2.1921],[57085,2.1921],[57088.5,2.1932],[57078.8,2.197],[57083.2,2.1964],[57088.5,2.197],[57092,2.1975],[57085.8,2.1991],[57089.3,2.2013],[57079.7,2.2035],[57086.7,2.2078],[57093.7,2.2078],[57088.5,2.2121],[57092,2.2137],[57085.8,2.2143],[57095.5,2.2153],[57081.5,2.217],[57085,2.2175],[57089.3,2.2186],[57093.7,2.2197],[57081.5,2.2213],[57086.7,2.2218],[57092,2.2229],[57085,2.2256],[57090.2,2.2256],[57081.5,2.2283],[57087.6,2.2283],[57094.6,2.2283],[57089.3,2.2326],[57085,2.2359],[57089.3,2.2348],[57085.8,2.238],[57080.6,2.2402],[57089.3,2.2429],[57094.6,2.2462],[57094.6,2.2499],[57080.6,2.2548],[57085.8,2.304],[57085.8,2.3072],[57085.8,2.3083],
[57066.5,2.205],[57067.0,2.215],[57068.0,2.223],[57069.0,2.197],[57069.5,2.211],[57070.5,2.203],[57071.0,2.22],[57071.5,2.192],[57066.0,2.232],[57067.8,2.242],[57087.0,2.204],[57090.0,2.211],[57091.5,2.216],[57087.5,2.224],[57083.0,2.22]
];

const leftSeries = [
  { name: 'nBAb3mag.B1', color: '#9400D3', data: nBAb3magB1 },
  { name: 'nBAb4mag.B1', color: '#228B22', data: nBAb4magB1 },
  { name: 'nBAb2mag.B', color: '#000000', data: nBAb2magB },
  { name: 'nBAb3mag.B2', color: '#FF0000', data: nBAb3magB2 },
  { name: 'nBAb4mag.B2', color: '#000080', data: nBAb4magB2 },
  { name: 'nBLb3mag.B', color: '#8B0000', data: nBLb3magB },
  { name: 'nBLb6mag.B', color: '#707070', data: nBLb6magB },
];

const rightSeries = [
  { name: 'nUBr7mag.R', color: '#000080', data: nUBr7magR },
  { name: 'nBTr1mag.R', color: '#707070', data: nBTr1magR },
  { name: 'nBTr2mag.R', color: '#9400D3', data: nBTr2magR },
  { name: 'nBHr2mag.R', color: '#FF0000', data: nBHr2magR },
  { name: 'nBTr3mag.R', color: '#228B22', data: nBTr3magR },
  { name: 'nBHr5mag.R', color: '#0000CD', data: nBHr5magR },
  { name: 'nBHr6mag.R', color: '#FF8844', data: nBHr6magR },
  { name: 'nBHr7mag.R', color: '#7D1818', data: nBHr7magR },
];

const SANS = '"Open Sans", "Noto Sans", sans-serif';
const LEG = '"DejaVu Sans", Verdana, sans-serif';

export default function App() {
  const W = 2274, H = 864;
  const left = 158, mid = 1134, right = 2110, top = 84, bottom = 728;
  const xL = d3.scaleLinear().domain([56609.7, 57114.7]).range([left, mid]);
  const xR = d3.scaleLinear().domain([56601.4, 57114.7]).range([mid, right]);
  const yL = d3.scaleLinear().domain([1.86, 2.02]).range([top, bottom]);
  const yR = d3.scaleLinear().domain([2.16, 2.32]).range([top, bottom]);
  const r = 2.9;

  const legend = (series: typeof leftSeries, x0: number, y0: number, w: number, h: number, firstY: number, step: number) => (
    <g>
      <rect x={x0} y={y0} width={w} height={h} fill="#fff" stroke="#111" strokeWidth={1.6} />
      {series.map((s, i) => (
        <text key={s.name} x={x0 + w / 2} y={firstY + i * step} textAnchor="middle" dominantBaseline="central"
          fontFamily={LEG} fontWeight="bold" fontSize={29} fill={s.color}>{s.name}</text>
      ))}
    </g>
  );

  return (
    <svg width={W} height={H} viewBox={`0 0 ${W} ${H}`} style={{ position: 'absolute', left: 0, top: 0, display: 'block', background: '#fff' }}>
      <rect x={0} y={0} width={W} height={H} fill="#fff" />
      {/* titles */}
      <text x={(left + mid) / 2} y={54} textAnchor="middle" fontFamily={SANS} fontWeight="bold" fontSize={53} fill="#000">BRITE - blue</text>
      <text x={(mid + right) / 2} y={54} textAnchor="middle" fontFamily={SANS} fontWeight="bold" fontSize={53} fill="#000">BRITE - red</text>

      {/* dots */}
      <g>
        {leftSeries.map(s => (
          <g key={s.name} fill={s.color}>
            {s.data.map((d, i) => <circle key={i} cx={xL(d[0])} cy={yL(d[1])} r={r} />)}
          </g>
        ))}
        {rightSeries.map(s => (
          <g key={s.name} fill={s.color}>
            {s.data.map((d, i) => <circle key={i} cx={xR(d[0])} cy={yR(d[1])} r={r} />)}
          </g>
        ))}
      </g>

      {/* legends */}
      {legend(leftSeries, 459, 119, 266, 336, 147, 46.2)}
      {legend(rightSeries, 1473, 122, 233, 384, 149, 46.5)}

      {/* ticks */}
      <g stroke="#1a1a1a" strokeWidth={2}>
        {leftYTicks.slice(1, -1).map(v => <line key={'ly' + v} x1={left} x2={left + 19} y1={yL(v)} y2={yL(v)} />)}
        {rightYTicks.slice(1, -1).map(v => <line key={'ry' + v} x1={right - 18} x2={right} y1={yR(v)} y2={yR(v)} />)}
        {xTicks.map(v => <line key={'lx' + v} x1={xL(v)} x2={xL(v)} y1={bottom - 18} y2={bottom} />)}
        {xTicks.map(v => <line key={'rx' + v} x1={xR(v)} x2={xR(v)} y1={bottom - 18} y2={bottom} />)}
      </g>

      {/* frame */}
      <rect x={left} y={top} width={right - left} height={bottom - top} fill="none" stroke="#1a1a1a" strokeWidth={3} />
      <line x1={mid} x2={mid} y1={top} y2={bottom} stroke="#000" strokeWidth={4} />

      {/* tick labels */}
      <g fontFamily={SANS} fontSize={31} fill="#111">
        {leftYTicks.map(v => <text key={'lyl' + v} x={137} y={yL(v) + 4} textAnchor="end" dominantBaseline="central">{v.toFixed(2)}</text>)}
        {rightYTicks.map(v => <text key={'ryl' + v} x={2130} y={yR(v) + 4} textAnchor="start" dominantBaseline="central">{v.toFixed(2)}</text>)}
        {xTicks.map(v => <text key={'lxl' + v} x={xL(v) + 4} y={776} textAnchor="middle" dominantBaseline="central">{v}</text>)}
        {xTicks.map(v => <text key={'rxl' + v} x={xR(v) + 4} y={776} textAnchor="middle" dominantBaseline="central">{v}</text>)}
      </g>

      {/* axis titles */}
      <g fontFamily={SANS} fontSize={32} fill="#111">
        <text x={(left + mid) / 2 + 2} y={843} textAnchor="middle" dominantBaseline="central"><tspan fontStyle="italic">T</tspan> (RJD)</text>
        <text x={(mid + right) / 2 + 1} y={843} textAnchor="middle" dominantBaseline="central"><tspan fontStyle="italic">T</tspan> (RJD)</text>
        <text transform={`translate(32, ${(top + bottom) / 2}) rotate(-90)`} textAnchor="middle" dominantBaseline="central"><tspan fontStyle="italic">m</tspan> (mag)</text>
        <text transform={`translate(2242, ${(top + bottom) / 2}) rotate(-90)`} textAnchor="middle" dominantBaseline="central"><tspan fontStyle="italic">m</tspan> (mag)</text>
      </g>

      {/* page number (cut by the page edge as in the source) */}
      <text x={2065} y={866} textAnchor="middle" fontFamily={SANS} fontSize={46} fill="#000">-14-</text>
      <rect x={2270} y={0} width={4} height={H} fill="#000" />
    </svg>
  );
}
